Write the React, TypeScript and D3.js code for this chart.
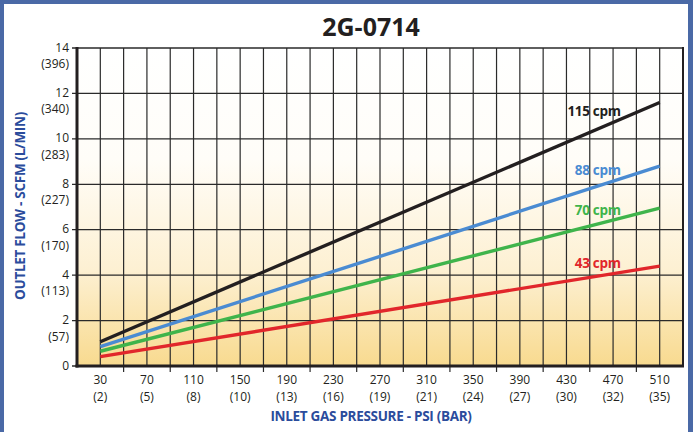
import React from "react";
import * as d3 from "d3";

// ---- data ----
const pressures = [30, 510];
const cpm115 = [1.07, 11.6];
const cpm88 = [0.85, 8.8];
const cpm70 = [0.65, 6.95];
const cpm43 = [0.41, 4.4];
const seriesNames = ["115 cpm", "88 cpm", "70 cpm", "43 cpm"];

const xTickValues = [30, 70, 110, 150, 190, 230, 270, 310, 350, 390, 430, 470, 510];
const xTickBar = ["(2)", "(5)", "(8)", "(10)", "(13)", "(16)", "(19)", "(21)", "(24)", "(27)", "(30)", "(32)", "(35)"];
const yTickValues = [0, 2, 4, 6, 8, 10, 12, 14];
const yTickLmin = ["", "(57)", "(113)", "(170)", "(227)", "(283)", "(340)", "(396)"];

const title = "2G-0714";
const xTitle = "INLET GAS PRESSURE - PSI (BAR)";
const yTitle = "OUTLET FLOW - SCFM (L/MIN)";

// ---- layout / styles ----
const W = 693;
const H = 432;
const L = 77, R = 683, T = 48, B = 366;
const colors = ["#231f20", "#4a8bd2", "#3fb44b", "#e1262b"];
const labelDy = [13, 9, 7, 2];
const blue = "#4a69a6";
const axisBlue = "#2b4c9c";
const font = "'Open Sans', 'DejaVu Sans', sans-serif";

export default function App() {
  const x = d3.scaleLinear().domain([10, 530]).range([L, R]);
  const y = d3.scaleLinear().domain([0, 14]).range([B, T]);
  const line = d3
    .line<[number, number]>()
    .x((d) => x(d[0]))
    .y((d) => y(d[1]));
  const series = [cpm115, cpm88, cpm70, cpm43];
  const vGrid = d3.range(30, 511, 20);
  const minorTicks = d3.range(50, 491, 40);

  return (
    <svg
      width={W}
      height={H}
      style={{ position: "absolute", left: 0, top: 0, display: "block" }}
      fontFamily={font}
    >
      <defs>
        <linearGradient id="bg" x1="0" y1="0" x2="0" y2="1">
          <stop offset="0%" stopColor="#ffffff" />
          <stop offset="35%" stopColor="#fffdf8" />
          <stop offset="70%" stopColor="#fdf0d2" />
          <stop offset="100%" stopColor="#f8da8f" />
        </linearGradient>
      </defs>
      <rect x={0} y={0} width={W} height={H} fill={blue} />
      <rect x={4} y={4} width={684} height={H} fill="#ffffff" />

      <text x={371} y={36} textAnchor="middle" fontSize={25} fontWeight={700} fill="#231f20">
        {title}
      </text>

      <rect x={L} y={T} width={R - L} height={B - T} fill="url(#bg)" />

      {/* grid */}
      {vGrid.map((v) => (
        <line key={"v" + v} x1={x(v)} x2={x(v)} y1={T} y2={B} stroke="#2a2a2a" strokeWidth={1.2} />
      ))}
      {yTickValues.map((v) => (
        <line key={"h" + v} x1={L - 5} x2={R} y1={y(v)} y2={y(v)} stroke="#2a2a2a" strokeWidth={1.3} />
      ))}
      {minorTicks.map((v) => (
        <line key={"t" + v} x1={x(v)} x2={x(v)} y1={B} y2={B + 6} stroke="#2a2a2a" strokeWidth={1.2} />
      ))}

      {/* axes */}
      <line x1={L} x2={L} y1={T - 1} y2={B + 1.5} stroke="#231f20" strokeWidth={3} />
      <line x1={L - 1.5} x2={R + 1} y1={B} y2={B} stroke="#231f20" strokeWidth={3} />
      <line x1={R} x2={R} y1={T - 1} y2={B} stroke="#231f20" strokeWidth={2} />

      {/* series */}
      {series.map((s, i) => {
        const pts = pressures.map((p, j) => [p, s[j]] as [number, number]);
        const end = pts[pts.length - 1];
        return (
          <g key={seriesNames[i]}>
            <path d={line(pts) || ""} fill="none" stroke={colors[i]} strokeWidth={3.4} />
            <text
              x={x(end[0]) - 39}
              y={y(end[1]) + labelDy[i]}
              textAnchor="end"
              fontSize={13.5}
              fontWeight={700}
              fill={colors[i]}
              letterSpacing={-0.3}
            >
              {seriesNames[i]}
            </text>
          </g>
        );
      })}

      {/* y tick labels */}
      {yTickValues.map((v, i) => (
        <g key={"yl" + v} fill="#231f20" fontSize={12}>
          <text x={69} y={y(v) + 3.5} textAnchor="end">
            {v}
          </text>
          {yTickLmin[i] && (
            <text x={69} y={y(v) + 20} textAnchor="end">
              {yTickLmin[i]}
            </text>
          )}
        </g>
      ))}

      {/* x tick labels */}
      {xTickValues.map((v, i) => (
        <g key={"xl" + v} fill="#231f20" fontSize={12} textAnchor="middle">
          <text x={x(v)} y={384}>
            {v}
          </text>
          <text x={x(v)} y={400.5}>
            {xTickBar[i]}
          </text>
        </g>
      ))}

      <text x={371} y={421} textAnchor="middle" fontSize={13.5} fontWeight={700} fill={axisBlue} letterSpacing={-0.3}>
        {xTitle}
      </text>
      <text
        transform={`translate(25, 206) rotate(-90)`}
        textAnchor="middle"
        fontSize={13.5}
        fontWeight={700}
        fill={axisBlue}
        letterSpacing={-0.3}
      >
        {yTitle}
      </text>
    </svg>
  );
}
